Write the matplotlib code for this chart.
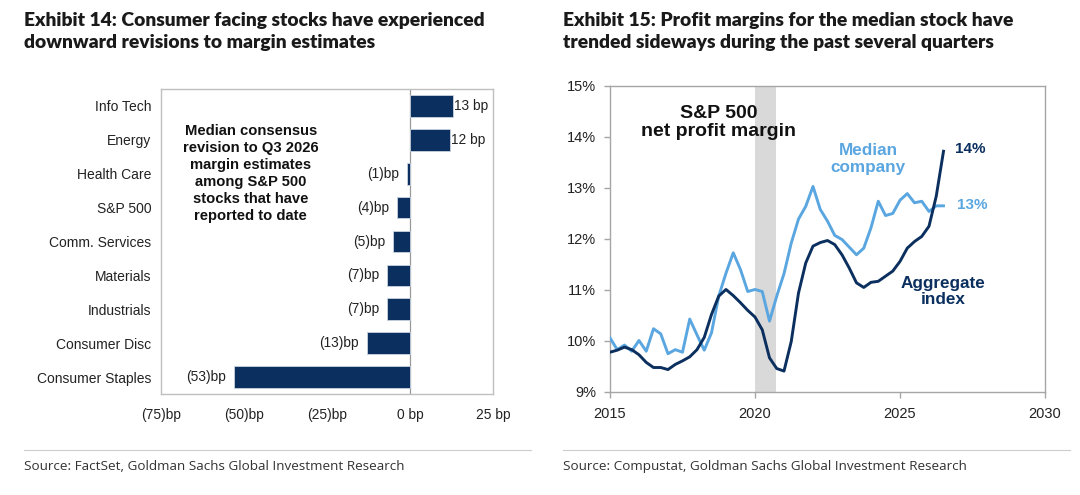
import matplotlib
matplotlib.use("Agg")
import matplotlib.pyplot as plt
import numpy as np

# ---- Exhibit 14 data ----
sectors = ["Info Tech", "Energy", "Health Care", "S&P 500", "Comm. Services",
           "Materials", "Industrials", "Consumer Disc", "Consumer Staples"]
revisions_bp = [13, 12, -1, -4, -5, -7, -7, -13, -53]
bp_ticks = [-75, -50, -25, 0, 25]
bp_tick_labels = ["(75)bp", "(50)bp", "(25)bp", "0 bp", "25 bp"]

# ---- Exhibit 15 data (quarterly, 2015Q1 .. 2026Q3) ----
start_year = 2015.0
aggregate = [9.78, 9.82, 9.88, 9.83, 9.73, 9.58, 9.48, 9.48, 9.44, 9.54, 9.61, 9.69,
             9.83, 10.07, 10.52, 10.88, 11.01, 10.89, 10.75, 10.60, 10.47, 10.22, 9.67, 9.46,
             9.41, 9.99, 10.94, 11.53, 11.86, 11.93, 11.97, 11.89, 11.69, 11.43, 11.14, 11.05,
             11.15, 11.17, 11.27, 11.37, 11.56, 11.82, 11.95, 12.05, 12.25, 12.84, 13.72]
median = [10.06, 9.83, 9.92, 9.80, 10.01, 9.80, 10.24, 10.14, 9.75, 9.83, 9.78, 10.43,
          10.12, 9.82, 10.16, 10.88, 11.33, 11.73, 11.40, 10.97, 11.01, 10.97, 10.39, 10.88,
          11.32, 11.92, 12.39, 12.64, 13.03, 12.58, 12.35, 12.07, 11.99, 11.84, 11.69, 11.82,
          12.22, 12.74, 12.46, 12.50, 12.76, 12.89, 12.71, 12.74, 12.54, 12.65, 12.65]
recession = (2020.0, 2020.72)
year_ticks = [2015, 2020, 2025, 2030]
pct_ticks = [9, 10, 11, 12, 13, 14, 15]

NAVY = "#0b2f5e"
LIGHT = "#5aa6e0"
SPINE = "#a6a6a6"

plt.rcParams["font.family"] = ["Liberation Sans", "DejaVu Sans"]

fig = plt.figure(figsize=(10.8, 4.95), dpi=100)
fig.patch.set_facecolor("white")

# titles, rules and sources
title_kw = dict(fontsize=13.9, fontweight="heavy", family=["Lato", "DejaVu Sans"],
                color="#1a1a1a", va="top", linespacing=1.3)
fig.text(0.022, 0.975, "Exhibit 14: Consumer facing stocks have experienced\n"
         "downward revisions to margin estimates", **title_kw)
fig.text(0.521, 0.975, "Exhibit 15: Profit margins for the median stock have\n"
         "trended sideways during the past several quarters", **title_kw)
for x0, x1 in [(0.022, 0.492), (0.521, 0.991)]:
    fig.add_artist(plt.Line2D([x0, x1], [0.091, 0.091], color="#cccccc", lw=0.8))
src_kw = dict(fontsize=9.7, family=["Open Sans", "DejaVu Sans"], color="#333333", va="center")
fig.text(0.022, 0.058, "Source: FactSet, Goldman Sachs Global Investment Research", **src_kw)
fig.text(0.521, 0.058, "Source: Compustat, Goldman Sachs Global Investment Research", **src_kw)

# ---- left: bar chart ----
ax1 = fig.add_axes([0.1491, 0.2040, 0.3074, 0.6162])
ypos = np.arange(len(sectors))
ax1.barh(ypos, revisions_bp, height=0.64, color=NAVY, edgecolor="#c9d3e0", linewidth=0.6, zorder=3)
ax1.axvline(0, color="#999999", lw=0.9, zorder=2)
ax1.set_ylim(len(sectors) - 0.5, -0.5)
ax1.set_xlim(-75, 25)
ax1.set_yticks(ypos)
ax1.set_yticklabels(sectors, fontsize=10, color="#222222")
ax1.set_xticks(bp_ticks)
ax1.set_xticklabels(bp_tick_labels, fontsize=9.9, color="#222222")
ax1.tick_params(axis="both", length=0)
ax1.tick_params(axis="y", pad=7)
ax1.tick_params(axis="x", pad=10)
for s in ax1.spines.values():
    s.set_color("#bfbfbf")
    s.set_linewidth(1.0)
for yv, v in zip(ypos, revisions_bp):
    if v >= 0:
        ax1.text(v + 0.2, yv, f"{v} bp", ha="left", va="center", fontsize=9.9, color="#222222")
    else:
        ax1.text(v - 2.3, yv, f"({-v})bp", ha="right", va="center", fontsize=9.9, color="#222222")
ax1.text(-48, 1.99, "Median consensus\nrevision to Q3 2026\nmargin estimates\namong S&P 500\n"
         "stocks that have\nreported to date", ha="center", va="center",
         fontsize=10.6, fontweight="bold", color="#111111", linespacing=1.27)

# ---- right: line chart ----
ax2 = fig.add_axes([0.5648, 0.2081, 0.4028, 0.6182])
t = start_year + np.arange(len(aggregate)) * 0.25
ax2.axvspan(*recession, color="#d9d9d9", lw=0, zorder=1)
ax2.plot(t, median, color=LIGHT, lw=2.1, zorder=3)
ax2.plot(t, aggregate, color=NAVY, lw=2.1, zorder=4)
ax2.set_xlim(2015, 2030)
ax2.set_ylim(9, 15)
ax2.set_xticks(year_ticks)
ax2.set_xticklabels([str(y) for y in year_ticks], fontsize=10.5, color="#222222")
ax2.set_yticks(pct_ticks)
ax2.set_yticklabels([f"{p}%" for p in pct_ticks], fontsize=10.5, color="#222222")
ax2.tick_params(axis="both", direction="out", length=4, width=1.0, color=SPINE)
ax2.tick_params(axis="y", pad=6)
ax2.tick_params(axis="x", pad=7)
for s in ax2.spines.values():
    s.set_color(SPINE)
    s.set_linewidth(1.0)

ax2.text(2018.74, 14.28, "S&P 500\nnet profit margin", ha="center", va="center",
         fontsize=14, fontweight="bold", color="#111111", linespacing=1.1)
ax2.text(2023.9, 13.57, "Median\ncompany", ha="center", va="center",
         fontsize=12.3, fontweight="bold", color=LIGHT, linespacing=1.1)
ax2.text(2026.48, 10.97, "Aggregate\nindex", ha="center", va="center",
         fontsize=12.3, fontweight="bold", color=NAVY, linespacing=1.1)
ax2.text(2026.9, 13.76, "14%", ha="left", va="center",
         fontsize=11, fontweight="bold", color=NAVY)
ax2.text(2026.95, 12.67, "13%", ha="left", va="center",
         fontsize=11, fontweight="bold", color=LIGHT)

fig.savefig("out.png", dpi=100, facecolor="white")
